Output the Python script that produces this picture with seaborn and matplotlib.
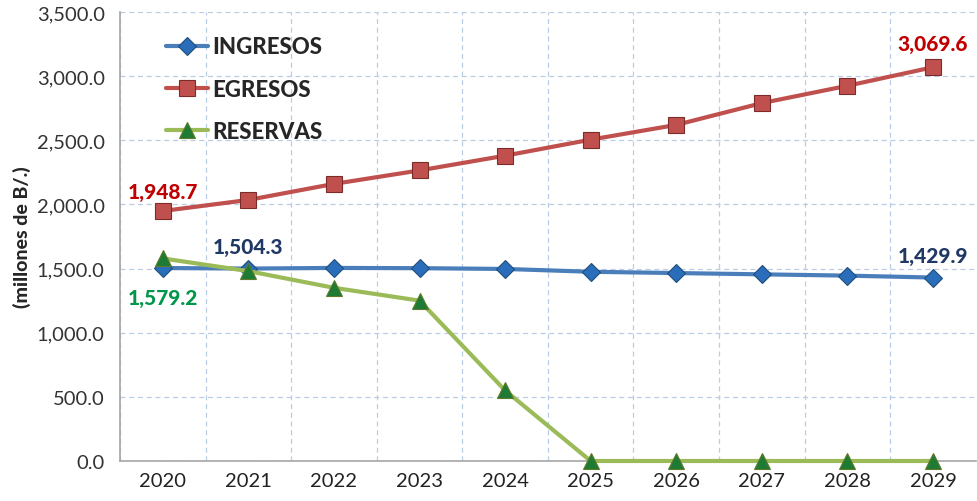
import numpy as np
import pandas as pd
import matplotlib.pyplot as plt
import seaborn as sns
from matplotlib.ticker import FuncFormatter, MultipleLocator

years = [2020, 2021, 2022, 2023, 2024, 2025, 2026, 2027, 2028, 2029]
ingresos = [1504.3, 1500.0, 1505.0, 1503.0, 1497.0, 1475.0, 1465.0, 1455.0, 1445.0, 1429.9]
egresos = [1948.7, 2035.0, 2160.0, 2265.0, 2380.0, 2505.0, 2620.0, 2790.0, 2925.0, 3069.6]
reservas = [1579.2, 1480.0, 1350.0, 1250.0, 550.0, 0.0, 0.0, 0.0, 0.0, 0.0]

df = pd.DataFrame({"year": years, "INGRESOS": ingresos,
                   "EGRESOS": egresos, "RESERVAS": reservas})

sns.set_style("white")
plt.rcParams['font.family'] = ['Lato', 'DejaVu Sans']

fig = plt.figure(figsize=(9.77, 5.02), dpi=100)
ax = fig.add_axes([0.1228, 0.0797, 0.876, 0.8944])

# series styling
sns.lineplot(x="year", y="INGRESOS", data=df, ax=ax, color="#4A7EBB", lw=3,
             marker="D", markersize=9, markerfacecolor="#2A6EBB",
             markeredgecolor="#1F4E79", markeredgewidth=0.8, label="INGRESOS",
             zorder=4, clip_on=False)
sns.lineplot(x="year", y="EGRESOS", data=df, ax=ax, color="#C0504D", lw=3,
             marker="s", markersize=11, markerfacecolor="#C0504D",
             markeredgecolor="#7B2C2A", markeredgewidth=0.8, label="EGRESOS",
             zorder=3, clip_on=False)
sns.lineplot(x="year", y="RESERVAS", data=df, ax=ax, color="#9BBB59", lw=3,
             marker="^", markersize=12, markerfacecolor="#1E7B34",
             markeredgecolor="#5E7A2A", markeredgewidth=0.8, label="RESERVAS",
             zorder=5, clip_on=False)

ax.set_xlim(years[0] - 0.5, years[-1] + 0.5)
ax.set_ylim(0, 3500)
ax.set_xticks(years)
ax.set_xticks([y + 0.5 for y in years[:-1]] + [years[0] - 0.5], minor=True)
ax.yaxis.set_major_locator(MultipleLocator(500))
ax.yaxis.set_major_formatter(FuncFormatter(lambda v, p: f"{v:,.1f}"))

ax.grid(False)
ax.grid(axis="x", which="minor", color="#B9CDE5", ls=(0, (4, 3)), lw=0.9)
ax.grid(axis="y", which="major", color="#B9CDE5", ls=(0, (4, 3)), lw=0.9)
ax.set_axisbelow(True)

for s in ["top", "right"]:
    ax.spines[s].set_visible(False)
for s in ["left", "bottom"]:
    ax.spines[s].set_color("#A6A6A6")
    ax.spines[s].set_linewidth(1.2)

ax.tick_params(axis="x", which="major", length=0, labelsize=14.5, pad=8, colors="#222222")
ax.tick_params(axis="x", which="minor", length=7, color="#A6A6A6", direction="out")
ax.tick_params(axis="y", length=7, color="#A6A6A6", direction="out", labelsize=14.5,
               labelcolor="#333333", pad=4)

ax.set_xlabel("")
ax.set_ylabel("(millones de B/.)", fontsize=14, fontweight=900, labelpad=4)

# value labels
lbl = dict(fontsize=15, fontweight=900, ha="center")
ax.text(2020, 2030, "1,948.7", color="#C00000", va="bottom", **lbl)
ax.text(2029, 3180, "3,069.6", color="#C00000", va="bottom", **lbl)
ax.text(2021, 1600, "1,504.3", color="#1F3864", va="bottom", **lbl)
ax.text(2029, 1530, "1,429.9", color="#1F3864", va="bottom", **lbl)
ax.text(2020, 1350, "1,579.2", color="#00964B", va="top", **lbl)

leg = ax.legend(loc="upper left", bbox_to_anchor=(0.03, 0.99), frameon=False,
                prop={"family": ["Lato", "DejaVu Sans"], "weight": 900, "size": 16},
                handlelength=1.9, labelspacing=0.95, handletextpad=0.2)

fig.savefig("out.png", dpi=100)
